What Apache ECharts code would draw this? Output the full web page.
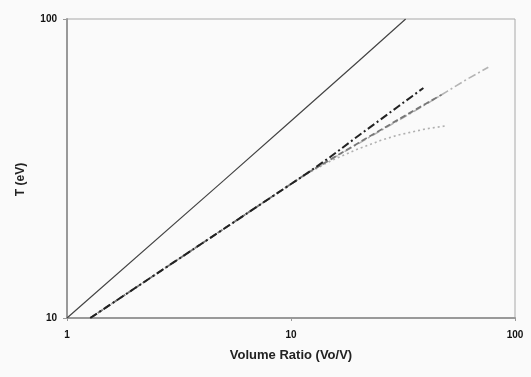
<!DOCTYPE html>
<html>
<head>
<meta charset="utf-8">
<script src="https://cdn.jsdelivr.net/npm/echarts@6/dist/echarts.min.js"></script>
<style>
html,body{margin:0;padding:0;background:#fafafa;}
#c{width:531px;height:377px;}
</style>
</head>
<body>
<div id="c"></div>
<script>
// Volume ratio (Vo/V) vs T (eV)
const adiabat = [[1, 10], [5, 28.8], [10, 45.6], [20, 72.2], [32.5, 100]];
const seriesA = [[1.27, 10], [2, 12.55], [3, 15.37], [5, 19.84], [7, 23.48], [10, 28.06], [12, 30.74], [15, 34.6], [20, 40.7], [25, 46], [30, 50.9], [35, 55.4], [39, 58.8]];
const seriesB = [[1.27, 10], [2, 12.55], [3, 15.37], [5, 19.84], [7, 23.48], [10, 28.06], [12, 30.74], [15, 33.9], [20, 38.5], [30, 46], [40, 52.1], [47, 55.8]];
const seriesC = [[1.27, 10], [2, 12.55], [3, 15.37], [5, 19.84], [7, 23.48], [10, 28.06], [12, 30.74], [15, 33.8], [20, 38.3], [30, 45.7], [40, 51.8], [50, 57.4], [60, 62.4], [76, 69]];
const seriesD = [[1.27, 10], [2, 12.55], [3, 15.37], [5, 19.84], [7, 23.48], [10, 28.06], [12, 30.6], [15, 33.5], [20, 36.8], [25, 39.2], [30, 40.9], [40, 42.9], [50, 44]];
const xTickLabels = ['1', '10', '100'];
const yTickLabels = ['10', '100'];

const chart = echarts.init(document.getElementById('c'), null, {renderer: 'canvas'});
const lbl = {color: '#111', fontFamily: 'Liberation Sans, Arial, sans-serif', fontWeight: 'bold', fontSize: 10};
function mk(data, color, width, type) {
  return {type: 'line', data: data, showSymbol: false, symbol: 'none', smooth: false,
    lineStyle: {color: color, width: width, type: type}, silent: true, animation: false};
}
chart.setOption({
  backgroundColor: '#fafafa',
  animation: false,
  grid: {left: 67, right: 16, top: 19, bottom: 59, show: true, borderColor: '#a8a8a8', borderWidth: 1, backgroundColor: 'transparent'},
  xAxis: {
    type: 'log', logBase: 10, min: 1, max: 100,
    name: 'Volume Ratio (Vo/V)', nameLocation: 'middle', nameGap: 31,
    nameTextStyle: {color: '#222', fontFamily: 'Liberation Sans, Arial, sans-serif', fontWeight: 'bold', fontSize: 13},
    axisLine: {show: true, lineStyle: {color: '#999', width: 2}},
    axisTick: {show: true, length: 3, inside: false, lineStyle: {color: '#999'}},
    minorTick: {show: false},
    splitLine: {show: false},
    axisLabel: Object.assign({margin: 12, formatter: function (v) { const s = String(Math.round(v)); return xTickLabels.indexOf(s) >= 0 ? s : ''; }}, lbl)
  },
  yAxis: {
    type: 'log', logBase: 10, min: 10, max: 100,
    name: 'T (eV)', nameLocation: 'middle', nameGap: 40, nameRotate: 90,
    nameTextStyle: {color: '#222', fontFamily: 'Liberation Sans, Arial, sans-serif', fontWeight: 'bold', fontSize: 12, padding: [0, 0, 0, -22]},
    axisLine: {show: true, lineStyle: {color: '#999', width: 2}},
    axisTick: {show: true, length: 4, lineStyle: {color: '#999'}},
    splitLine: {show: false},
    axisLabel: Object.assign({margin: 10, formatter: function (v) { const s = String(Math.round(v)); return yTickLabels.indexOf(s) >= 0 ? s : ''; }}, lbl)
  },
  series: [
    mk(adiabat, '#444', 1.2, 'solid'),
    mk(seriesD, '#b0b0b0', 1.6, [2, 3]),
    mk(seriesC, '#b4b4b4', 1.6, [8, 3, 2, 3]),
    mk(seriesB, '#777', 1.8, [6, 3]),
    mk(seriesA, '#222', 2, [8, 3, 2, 3])
  ]
});
</script>
</body>
</html>
